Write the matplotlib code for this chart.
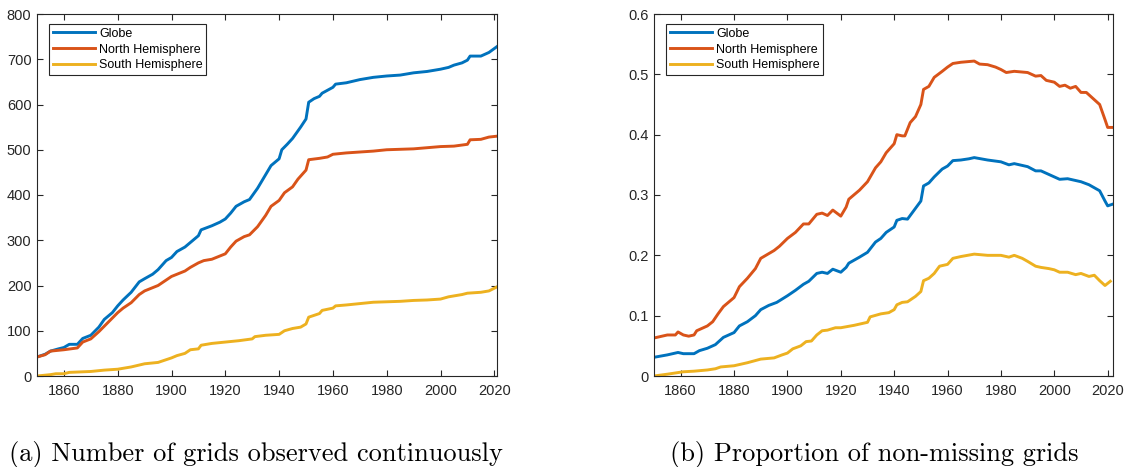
import numpy as np
import matplotlib
matplotlib.use("Agg")
import matplotlib.pyplot as plt

plt.rcParams['font.family'] = ['Liberation Sans', 'DejaVu Sans']

# (a) number of grids observed continuously
cnt_globe_yr = [1850, 1853, 1855, 1858, 1860, 1862, 1865, 1867, 1870, 1873, 1875, 1878, 1880, 1882,
                1885, 1888, 1890, 1893, 1895, 1898, 1900, 1902, 1905, 1908, 1910, 1911, 1915, 1918,
                1920, 1922, 1924, 1927, 1929, 1932, 1935, 1937, 1940, 1941, 1943, 1945, 1948, 1950,
                1951, 1953, 1955, 1956, 1960, 1961, 1965, 1970, 1975, 1980, 1985, 1990, 1995, 2000,
                2003, 2005, 2008, 2010, 2011, 2015, 2018, 2021]
cnt_globe = [42, 48, 55, 60, 63, 70, 70, 83, 90, 108, 125, 140, 155, 168,
             185, 208, 215, 225, 235, 255, 262, 275, 285, 300, 310, 323, 332, 340,
             347, 360, 375, 385, 390, 415, 445, 465, 480, 500, 512, 525, 550, 568,
             605, 613, 618, 625, 638, 645, 648, 655, 660, 663, 665, 670, 673, 678,
             682, 687, 692, 698, 707, 707, 715, 728]

cnt_north_yr = [1850, 1853, 1855, 1860, 1865, 1867, 1870, 1873, 1875, 1878, 1880, 1882, 1885, 1888,
                1890, 1895, 1897, 1900, 1905, 1907, 1910, 1912, 1915, 1920, 1922, 1924, 1927, 1929,
                1932, 1935, 1937, 1940, 1942, 1945, 1947, 1950, 1951, 1955, 1958, 1960, 1965, 1970,
                1975, 1980, 1990, 2000, 2005, 2010, 2011, 2015, 2018, 2021]
cnt_north = [42, 47, 55, 58, 62, 75, 82, 98, 110, 128, 140, 150, 162, 180,
             188, 200, 208, 220, 232, 240, 250, 255, 258, 270, 285, 298, 308, 312,
             330, 355, 375, 388, 405, 418, 435, 455, 478, 481, 484, 490, 493, 495,
             497, 500, 502, 507, 508, 512, 522, 523, 528, 530]

cnt_south_yr = [1850, 1855, 1857, 1860, 1862, 1870, 1875, 1880, 1885, 1890, 1895, 1900, 1902, 1905,
                1907, 1910, 1911, 1915, 1920, 1925, 1930, 1931, 1935, 1940, 1942, 1945, 1948, 1950,
                1951, 1955, 1956, 1960, 1961, 1965, 1970, 1975, 1980, 1985, 1990, 1995, 2000, 2003,
                2008, 2010, 2015, 2018, 2021]
cnt_south = [0, 3, 5, 5, 8, 10, 13, 15, 20, 27, 30, 40, 45, 50,
             58, 60, 68, 72, 75, 78, 82, 87, 90, 92, 100, 105, 108, 115,
             130, 138, 145, 150, 155, 157, 160, 163, 164, 165, 167, 168, 170, 175,
             180, 183, 185, 188, 197]

# (b) proportion of non-missing grids
pr_north_yr = [1850, 1855, 1858, 1859, 1861, 1863, 1865, 1866, 1870, 1872, 1874, 1876, 1880, 1882,
               1885, 1888, 1890, 1895, 1897, 1900, 1903, 1906, 1908, 1911, 1913, 1915, 1917, 1920,
               1922, 1923, 1927, 1930, 1933, 1935, 1937, 1940, 1941, 1943, 1944, 1946, 1948, 1950,
               1951, 1953, 1955, 1958, 1960, 1962, 1965, 1970, 1972, 1975, 1978, 1980, 1982, 1985,
               1990, 1993, 1995, 1997, 2000, 2002, 2004, 2006, 2008, 2010, 2012, 2015, 2017, 2019,
               2020, 2022]
pr_north = [0.063, 0.068, 0.068, 0.073, 0.068, 0.066, 0.068, 0.075, 0.083, 0.090, 0.103, 0.115, 0.130, 0.148,
            0.162, 0.178, 0.195, 0.208, 0.215, 0.228, 0.238, 0.252, 0.252, 0.268, 0.270, 0.266, 0.275, 0.265,
            0.280, 0.293, 0.308, 0.322, 0.345, 0.355, 0.370, 0.385, 0.400, 0.398, 0.398, 0.420, 0.430, 0.450,
            0.475, 0.480, 0.495, 0.505, 0.512, 0.518, 0.520, 0.522, 0.517, 0.516, 0.512, 0.508, 0.503, 0.505,
            0.503, 0.497, 0.498, 0.490, 0.487, 0.480, 0.482, 0.477, 0.480, 0.470, 0.470, 0.458, 0.450, 0.425,
            0.412, 0.412]

pr_globe_yr = [1850, 1855, 1859, 1861, 1865, 1867, 1870, 1873, 1876, 1880, 1882, 1885, 1888, 1890,
               1893, 1896, 1900, 1903, 1906, 1908, 1911, 1913, 1915, 1917, 1920, 1922, 1923, 1927,
               1930, 1933, 1935, 1937, 1940, 1941, 1943, 1945, 1947, 1950, 1951, 1953, 1955, 1958,
               1960, 1962, 1965, 1968, 1970, 1975, 1980, 1983, 1985, 1990, 1993, 1995, 2000, 2002,
               2005, 2008, 2010, 2013, 2015, 2017, 2019, 2020, 2022]
pr_globe = [0.031, 0.035, 0.039, 0.037, 0.037, 0.042, 0.046, 0.052, 0.064, 0.072, 0.083, 0.090, 0.100, 0.110,
            0.117, 0.122, 0.133, 0.142, 0.152, 0.157, 0.170, 0.172, 0.170, 0.177, 0.172, 0.180, 0.187, 0.197,
            0.205, 0.222, 0.228, 0.238, 0.247, 0.258, 0.261, 0.260, 0.272, 0.290, 0.315, 0.320, 0.330, 0.343,
            0.348, 0.357, 0.358, 0.360, 0.362, 0.358, 0.355, 0.350, 0.352, 0.347, 0.340, 0.340, 0.330, 0.326,
            0.327, 0.324, 0.322, 0.317, 0.312, 0.307, 0.290, 0.282, 0.285]

pr_south_yr = [1850, 1855, 1858, 1861, 1865, 1870, 1873, 1875, 1880, 1885, 1890, 1895, 1898, 1900,
               1902, 1905, 1907, 1909, 1911, 1913, 1915, 1918, 1920, 1925, 1928, 1930, 1931, 1935,
               1938, 1940, 1941, 1943, 1945, 1948, 1950, 1951, 1953, 1955, 1957, 1960, 1962, 1965,
               1970, 1975, 1980, 1983, 1985, 1988, 1990, 1993, 1995, 1998, 2000, 2002, 2005, 2008,
               2010, 2013, 2015, 2017, 2019, 2021]
pr_south = [0.0, 0.003, 0.005, 0.007, 0.008, 0.010, 0.012, 0.015, 0.017, 0.022, 0.028, 0.030, 0.035, 0.038,
            0.045, 0.050, 0.057, 0.058, 0.068, 0.075, 0.076, 0.080, 0.080, 0.084, 0.087, 0.089, 0.098, 0.103,
            0.105, 0.110, 0.118, 0.122, 0.123, 0.132, 0.140, 0.158, 0.162, 0.170, 0.182, 0.185, 0.195, 0.198,
            0.202, 0.200, 0.200, 0.197, 0.200, 0.195, 0.190, 0.182, 0.180, 0.178, 0.176, 0.172, 0.172, 0.168,
            0.170, 0.165, 0.167, 0.158, 0.150, 0.157]

labels = ['Globe', 'North Hemisphere', 'South Hemisphere']
colors = ['#0072BD', '#D95319', '#EDB120']
captions = ['(a) Number of grids observed continuously', '(b) Proportion of non-missing grids']

fig = plt.figure(figsize=(11.25, 4.67), dpi=100)
ax1 = fig.add_axes([37/1125, 1-376/467, 460/1125, 362/467])
ax2 = fig.add_axes([654/1125, 1-376/467, 459/1125, 362/467])

def style(ax, xmax):
    ax.set_xlim(1850, xmax)
    ax.set_xticks(np.arange(1860, 2021, 20))
    ax.tick_params(direction='in', top=True, right=True, length=4, width=0.8,
                   colors='#262626', labelsize=10.5)
    ax.tick_params(axis='x', pad=6)
    ax.tick_params(axis='y', pad=4)
    for s in ax.spines.values():
        s.set_color('#262626')
        s.set_linewidth(0.8)
    leg = ax.legend(loc='upper left', bbox_to_anchor=(12/460, 1-10/362), fontsize=9,
                    fancybox=False, framealpha=1, edgecolor='#262626', handlelength=3.4,
                    handletextpad=0.3, borderpad=0.3, labelspacing=0.3, borderaxespad=0)
    leg.get_frame().set_linewidth(0.8)

for yr, v, lab, c in zip([cnt_globe_yr, cnt_north_yr, cnt_south_yr],
                         [cnt_globe, cnt_north, cnt_south], labels, colors):
    ax1.plot(yr, v, color=c, lw=2.1, label=lab)
ax1.set_ylim(0, 800)
ax1.set_yticks(np.arange(0, 801, 100))
style(ax1, 2021)

for yr, v, lab, c in zip([pr_globe_yr, pr_north_yr, pr_south_yr],
                         [pr_globe, pr_north, pr_south], labels, colors):
    ax2.plot(yr, v, color=c, lw=2.1, label=lab)
ax2.set_ylim(0, 0.6)
yt = np.arange(0, 0.61, 0.1)
ax2.set_yticks(yt)
ax2.set_yticklabels(['0'] + ['%.1f' % t for t in yt[1:]])
style(ax2, 2022)

fig.text(9/1125, 6/467, captions[0], family='cmr10', fontsize=19, va='baseline', ha='left')
fig.text(1078/1125, 6/467, captions[1], family='cmr10', fontsize=19, va='baseline', ha='right')

fig.savefig('out.png', dpi=100)
